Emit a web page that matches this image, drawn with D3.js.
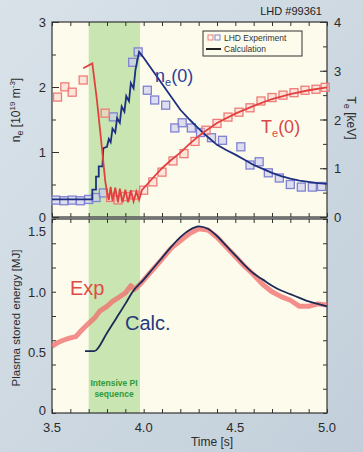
<!DOCTYPE html>
<html>
<head>
<meta charset="utf-8">
<script src="https://cdn.jsdelivr.net/npm/d3@7"></script>
<style>
  body { margin: 0; background: #cbd6df; }
  svg { display: block; font-family: "Liberation Sans", Arial, sans-serif; }
</style>
</head>
<body>
<svg id="chart" width="363" height="452"></svg>
<script>
// ---- data -------------------------------------------------------------------
// top panel: central density ne(0) [1e19 m^-3] (left axis), Te(0) [keV] (right axis)
const neExpTime = [3.52, 3.565, 3.61, 3.655, 3.70, 3.74, 3.78, 3.835, 3.94, 3.97, 4.02, 4.06, 4.12, 4.17, 4.21, 4.26, 4.31, 4.37, 4.43, 4.53, 4.58, 4.63, 4.68, 4.74, 4.80, 4.86, 4.92, 4.97];
const neExpVal  = [0.26, 0.25, 0.26, 0.25, 0.27, 0.30, 0.37, 1.54, 2.38, 2.54, 1.95, 1.80, 1.72, 1.37, 1.45, 1.37, 1.30, 1.22, 1.18, 1.08, 0.80, 0.85, 0.68, 0.60, 0.50, 0.46, 0.46, 0.47];
const neCalcTime = [3.50, 3.72, 3.72, 3.74, 3.74, 3.755, 3.755, 3.775, 3.78, 3.80, 3.81, 3.82, 3.83, 3.845, 3.855, 3.87, 3.88, 3.895, 3.905, 3.92, 3.93, 3.945, 3.955, 3.975, 4.00, 4.05, 4.10, 4.15, 4.20, 4.25, 4.30, 4.35, 4.40, 4.45, 4.50, 4.55, 4.60, 4.65, 4.70, 4.75, 4.80, 4.85, 4.90, 4.95, 5.00];
const neCalcVal  = [0.27, 0.27, 0.42, 0.42, 0.62, 0.62, 0.78, 0.78, 1.06, 1.08, 1.20, 1.15, 1.36, 1.30, 1.52, 1.45, 1.70, 1.62, 1.86, 1.78, 2.06, 1.98, 2.26, 2.54, 2.45, 2.25, 2.05, 1.85, 1.65, 1.50, 1.36, 1.23, 1.11, 1.03, 0.96, 0.88, 0.80, 0.74, 0.68, 0.63, 0.59, 0.56, 0.54, 0.52, 0.51];

const teExpTime = [3.53, 3.57, 3.61, 3.67, 3.79, 3.82, 3.86, 3.90, 3.95, 4.00, 4.05, 4.10, 4.16, 4.22, 4.28, 4.34, 4.40, 4.46, 4.52, 4.58, 4.64, 4.70, 4.76, 4.82, 4.88, 4.94, 4.99];
const teExpVal  = [2.46, 2.67, 2.56, 2.81, 2.13, 0.40, 0.35, 0.42, 0.45, 0.55, 0.72, 0.92, 1.15, 1.30, 1.55, 1.78, 1.92, 2.05, 2.15, 2.24, 2.38, 2.45, 2.50, 2.55, 2.60, 2.62, 2.66];
const teCalcTime = [3.67, 3.72, 3.745, 3.77, 3.79, 3.80, 3.81, 3.82, 3.83, 3.845, 3.86, 3.87, 3.885, 3.90, 3.915, 3.93, 3.945, 3.96, 3.975, 3.99, 4.05, 4.10, 4.15, 4.20, 4.25, 4.32, 4.40, 4.50, 4.60, 4.70, 4.80, 4.90, 5.00];
const teCalcVal  = [3.05, 3.15, 2.40, 1.50, 0.75, 0.50, 0.35, 0.62, 0.33, 0.60, 0.30, 0.58, 0.30, 0.56, 0.30, 0.55, 0.32, 0.52, 0.35, 0.55, 0.80, 1.00, 1.17, 1.32, 1.50, 1.72, 1.93, 2.12, 2.28, 2.42, 2.52, 2.60, 2.66];

// bottom panel: plasma stored energy [MJ]
const wExpTime = [3.50, 3.53, 3.56, 3.60, 3.63, 3.66, 3.70, 3.73, 3.76, 3.80, 3.83, 3.86, 3.90, 3.93, 3.95, 3.98, 4.02, 4.06, 4.10, 4.15, 4.20, 4.25, 4.30, 4.35, 4.40, 4.45, 4.50, 4.55, 4.60, 4.65, 4.70, 4.75, 4.80, 4.85, 4.90, 4.95, 5.00];
const wExpVal  = [0.55, 0.58, 0.60, 0.62, 0.63, 0.68, 0.74, 0.78, 0.84, 0.88, 0.92, 0.95, 0.99, 1.05, 1.02, 1.06, 1.13, 1.20, 1.27, 1.36, 1.42, 1.48, 1.52, 1.51, 1.45, 1.37, 1.29, 1.21, 1.14, 1.06, 1.00, 0.96, 0.93, 0.88, 0.88, 0.90, 0.89];
const wCalcTime = [3.68, 3.73, 3.80, 3.85, 3.90, 3.94, 4.00, 4.05, 4.10, 4.15, 4.20, 4.25, 4.30, 4.35, 4.40, 4.45, 4.50, 4.55, 4.60, 4.65, 4.70, 4.75, 4.80, 4.85, 4.90, 4.95, 5.00];
const wCalcVal  = [0.51, 0.51, 0.66, 0.78, 0.90, 1.00, 1.10, 1.19, 1.28, 1.37, 1.45, 1.51, 1.54, 1.52, 1.46, 1.38, 1.30, 1.22, 1.15, 1.10, 1.05, 1.01, 0.98, 0.95, 0.92, 0.90, 0.88];

const pelletWindow = [3.70, 3.98];
const xTicks = ['3.5', '4.0', '4.5', '5.0'];

// ---- layout ------------------------------------------------------------------
let svg = d3.select('#chart');
let defs = svg.append('defs');
let grad = defs.append('linearGradient').attr('id', 'bg').attr('x1', 0).attr('y1', 0).attr('x2', 1).attr('y2', 1);
grad.append('stop').attr('offset', '0%').attr('stop-color', '#d9e2e9');
grad.append('stop').attr('offset', '100%').attr('stop-color', '#c2cfda');
svg.append('rect').attr('width', 363).attr('height', 452).attr('fill', 'url(#bg)');

let x = d3.scaleLinear().domain([3.5, 5.0]).range([52, 327]);
let yNe = d3.scaleLinear().domain([0, 3]).range([217, 22]);
let yTe = d3.scaleLinear().domain([0, 4]).range([217, 22]);
let yW = d3.scaleLinear().domain([0, 1.6]).range([413, 219]);

const red = '#e2403f', blue = '#1d2f80', sqBlue = '#7f82d2', sqRed = '#ef7b78';

// plot backgrounds + pellet band
[[22, 217], [219, 413]].forEach((p) => {
    svg.append('rect').attr('x', x(3.5)).attr('y', p[0]).attr('width', x(5) - x(3.5)).attr('height', p[1] - p[0])
        .attr('fill', '#fdfcec');
    svg.append('rect').attr('x', x(pelletWindow[0])).attr('y', p[0]).attr('width', x(pelletWindow[1]) - x(pelletWindow[0]))
        .attr('height', p[1] - p[0]).attr('fill', '#bfe0a8').attr('opacity', 0.85);
});

// axes ------------------------------------------------------------------------
function frame(top, bottom) {
    svg.append('rect').attr('x', x(3.5)).attr('y', top).attr('width', x(5) - x(3.5)).attr('height', bottom - top)
        .attr('fill', 'none').attr('stroke', '#333').attr('stroke-width', 1.2);
    svg.append('g').attr('transform', 'translate(0,' + bottom + ')')
        .call(d3.axisTop(x).ticks(15).tickSize(4).tickFormat(''));
    svg.append('g').attr('transform', 'translate(0,' + top + ')')
        .call(d3.axisBottom(x).ticks(15).tickSize(4).tickFormat(''));
}
frame(22, 217);
frame(219, 413);

svg.append('g').attr('transform', 'translate(' + x(3.5) + ',0)')
    .call(d3.axisRight(yNe).ticks(6).tickSize(4).tickFormat(''));
svg.append('g').attr('transform', 'translate(' + x(3.5) + ',0)')
    .call(d3.axisRight(yNe).ticks(3).tickSize(7).tickFormat(''));
svg.append('g').attr('transform', 'translate(' + x(5) + ',0)')
    .call(d3.axisLeft(yTe).ticks(8).tickSize(4).tickFormat(''));
svg.append('g').attr('transform', 'translate(' + x(5) + ',0)')
    .call(d3.axisLeft(yTe).ticks(4).tickSize(7).tickFormat(''));
svg.append('g').attr('transform', 'translate(' + x(3.5) + ',0)')
    .call(d3.axisRight(yW).ticks(7).tickSize(4).tickFormat(''));
svg.append('g').attr('transform', 'translate(' + x(5) + ',0)')
    .call(d3.axisLeft(yW).ticks(7).tickSize(4).tickFormat(''));
svg.selectAll('.domain').remove();
svg.selectAll('.tick line').attr('stroke', '#333');

// tick labels
let labels = svg.append('g').attr('fill', '#2b2b2b').attr('font-size', 13);
[0, 1, 2, 3].forEach((v) => {
    labels.append('text').attr('x', 46).attr('y', yNe(v) + 5).attr('text-anchor', 'end').text(v);
});
[0, 1, 2, 3, 4].forEach((v) => {
    labels.append('text').attr('x', 334).attr('y', yTe(v) + 5).text(v);
});
[0, 0.5, 1.0, 1.5].forEach((v) => {
    labels.append('text').attr('x', 46).attr('y', yW(v) + (v === 0 ? 2 : 5)).attr('text-anchor', 'end')
        .text(v === 0 ? '0' : v.toFixed(1));
});
xTicks.forEach((t) => {
    labels.append('text').attr('x', x(+t)).attr('y', 432).attr('text-anchor', 'middle').text(t);
});

// axis titles
let t1 = svg.append('text').attr('transform', 'translate(20,110) rotate(-90)').attr('text-anchor', 'middle')
    .attr('font-size', 12).attr('fill', '#2b2b2b');
t1.append('tspan').text('n');
t1.append('tspan').attr('font-size', 9).attr('dy', 3).text('e');
t1.append('tspan').attr('dy', -3).text('  [10');
t1.append('tspan').attr('font-size', 8).attr('dy', -5).text('19');
t1.append('tspan').attr('dy', 5).text(' m');
t1.append('tspan').attr('font-size', 8).attr('dy', -5).text('-3');
t1.append('tspan').attr('dy', 5).text(']');

let t2 = svg.append('text').attr('transform', 'translate(347,118) rotate(90)').attr('text-anchor', 'middle')
    .attr('font-size', 12).attr('fill', '#2b2b2b');
t2.append('tspan').text('T');
t2.append('tspan').attr('font-size', 9).attr('dy', 3).text('e');
t2.append('tspan').attr('dy', -3).text('  [keV]');

svg.append('text').attr('transform', 'translate(20,318) rotate(-90)').attr('text-anchor', 'middle')
    .attr('font-size', 11.5).attr('fill', '#2b2b2b').text('Plasma stored energy   [MJ]');
svg.append('text').attr('x', 212).attr('y', 446).attr('text-anchor', 'middle')
    .attr('font-size', 12).attr('fill', '#2b2b2b').text('Time    [s]');

svg.append('text').attr('x', 322).attr('y', 15).attr('text-anchor', 'end')
    .attr('font-size', 11).attr('fill', '#222').text('LHD #99361');

// lines -----------------------------------------------------------------------
function series(tArr, vArr) {
    return tArr.map((t, i) => [t, vArr[i]]);
}
let lineNe = d3.line().x((d) => x(d[0])).y((d) => yNe(d[1]));
let lineW = d3.line().x((d) => x(d[0])).y((d) => yW(d[1]));
let lineWs = d3.line().curve(d3.curveMonotoneX).x((d) => x(d[0])).y((d) => yW(d[1]));
let lineTe = d3.line().x((d) => x(d[0])).y((d) => yTe(d[1]));

// experiment squares
svg.append('g').selectAll('rect').data(series(neExpTime, neExpVal)).enter().append('rect')
    .attr('x', (d) => x(d[0]) - 4).attr('y', (d) => yNe(d[1]) - 4).attr('width', 8).attr('height', 8)
    .attr('fill', '#c9caf0').attr('fill-opacity', 0.6).attr('stroke', sqBlue).attr('stroke-width', 1.3);
svg.append('g').selectAll('rect').data(series(teExpTime, teExpVal)).enter().append('rect')
    .attr('x', (d) => x(d[0]) - 4).attr('y', (d) => yTe(d[1]) - 4).attr('width', 8).attr('height', 8)
    .attr('fill', '#fbd0cc').attr('fill-opacity', 0.5).attr('stroke', sqRed).attr('stroke-width', 1.3);

// calculation lines
svg.append('path').datum(series(neCalcTime, neCalcVal)).attr('d', lineNe)
    .attr('fill', 'none').attr('stroke', blue).attr('stroke-width', 1.8);
svg.append('path').datum(series(teCalcTime, teCalcVal)).attr('d', lineTe)
    .attr('fill', 'none').attr('stroke', red).attr('stroke-width', 1.8);

svg.append('path').datum(series(wExpTime, wExpVal)).attr('d', lineW)
    .attr('fill', 'none').attr('stroke', '#f06a6a').attr('stroke-width', 5).attr('stroke-opacity', 0.75)
    .attr('stroke-linejoin', 'round');
svg.append('path').datum(series(wCalcTime, wCalcVal)).attr('d', lineWs)
    .attr('fill', 'none').attr('stroke', '#1c2a55').attr('stroke-width', 1.8);

// annotations
let ne = svg.append('text').attr('x', 155).attr('y', 82).attr('fill', '#2f3f9a').attr('font-size', 18);
ne.append('tspan').text('n');
ne.append('tspan').attr('font-size', 11).attr('dy', 4).text('e');
ne.append('tspan').attr('dy', -4).text('(0)');
let te = svg.append('text').attr('x', 261).attr('y', 133).attr('fill', '#d94848').attr('font-size', 18);
te.append('tspan').text('T');
te.append('tspan').attr('font-size', 11).attr('dy', 4).text('e');
te.append('tspan').attr('dy', -4).text('(0)');

svg.append('text').attr('x', 70).attr('y', 295).attr('fill', '#e04a4a').attr('font-size', 20).text('Exp');
svg.append('text').attr('x', 125).attr('y', 330).attr('fill', '#243a7a').attr('font-size', 20).text('Calc.');

svg.append('text').attr('x', 114).attr('y', 386).attr('text-anchor', 'middle').attr('fill', '#2f9a3a')
    .attr('font-size', 8.5).attr('font-weight', 'bold').text('Intensive PI');
svg.append('text').attr('x', 114).attr('y', 397).attr('text-anchor', 'middle').attr('fill', '#2f9a3a')
    .attr('font-size', 8.5).attr('font-weight', 'bold').text('sequence');

// legend
let lg = svg.append('g').attr('transform', 'translate(203,31)');
lg.append('rect').attr('width', 99).attr('height', 25).attr('fill', '#fdfcec').attr('stroke', '#333').attr('stroke-width', 1);
lg.append('rect').attr('x', 5).attr('y', 4).attr('width', 5).attr('height', 5).attr('fill', 'none').attr('stroke', sqRed);
lg.append('rect').attr('x', 12).attr('y', 4).attr('width', 5).attr('height', 5).attr('fill', 'none').attr('stroke', sqBlue);
lg.append('line').attr('x1', 3).attr('x2', 18).attr('y1', 18).attr('y2', 18).attr('stroke', '#222').attr('stroke-width', 2);
lg.append('text').attr('x', 21).attr('y', 10).attr('font-size', 8.5).attr('fill', '#333').text('LHD Experiment');
lg.append('text').attr('x', 21).attr('y', 21).attr('font-size', 8.5).attr('fill', '#333').text('Calculation');
</script>
</body>
</html>
